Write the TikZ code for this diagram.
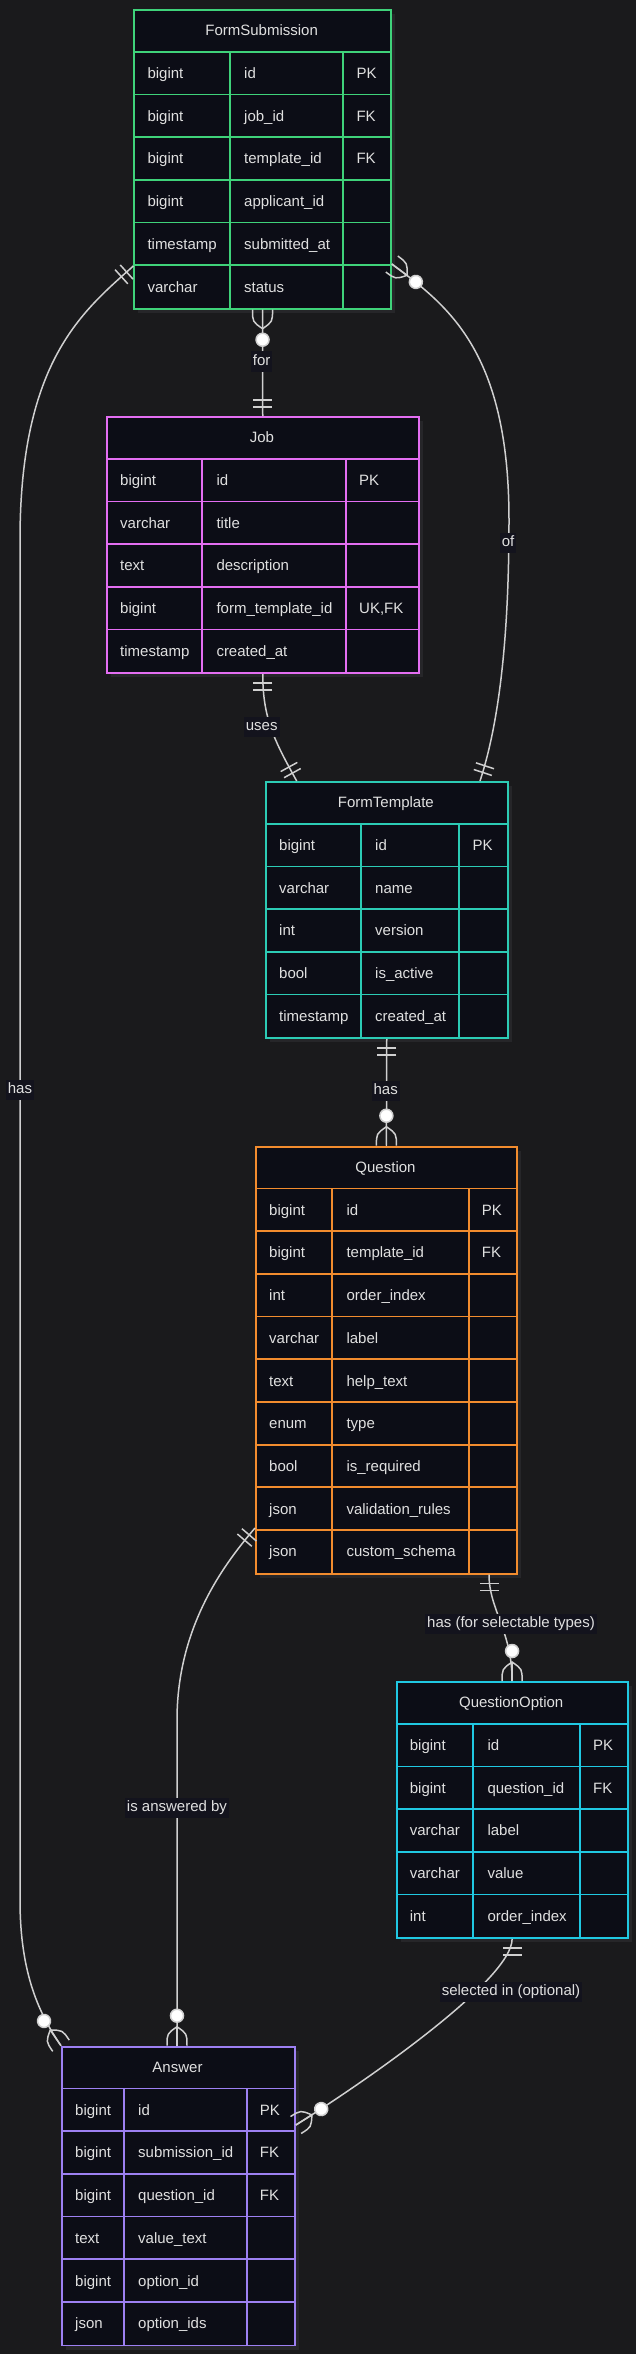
\documentclass[tikz,border=0pt]{standalone}
\usepackage{fontspec}
\setmainfont{Liberation Sans}
\usetikzlibrary{calc}
\definecolor{bgc}{HTML}{1A1A1C}
\definecolor{tblf}{HTML}{0C0D16}
\definecolor{shc}{HTML}{262629}
\definecolor{txtc}{HTML}{E0E0E0}
\definecolor{lnc}{HTML}{D0D0D0}
\definecolor{lblf}{HTML}{13131D}
\definecolor{cfs}{HTML}{3FD27A}
\definecolor{cjob}{HTML}{E46EF2}
\definecolor{cft}{HTML}{2CCBB5}
\definecolor{cq}{HTML}{F28C2E}
\definecolor{cqo}{HTML}{20C8E2}
\definecolor{cans}{HTML}{9D80F2}
\newcommand{\tf}{\fontsize{15}{18}\selectfont}
\tikzset{
 txt/.style={text=txtc, font=\tf, inner sep=0pt},
 conn/.style={draw=lnc, line width=1.5pt},
 lbl/.style={fill=lblf, text=txtc, font=\tf, inner xsep=2pt, inner ysep=3pt, text height=11pt, text depth=3.5pt},
 tblbox/.style={fill=tblf, line width=1.8pt, inner sep=0pt, anchor=north west},
}
\newcommand{\RH}{42.7}
\newcommand{\ertbl}[9]{%
 \fill[shc] ({#3+5},{#4+5}) rectangle ++(#5,{\RH*(#8+1)});
 \node[tblbox, draw=#2, minimum width=#5pt, minimum height={\RH*(#8+1)*1pt}] (#1) at (#3,#4) {};
 \begin{scope}[shift={(#1.north west)}]
 \foreach \i in {1,...,#8} \draw[#2, line width=1.8pt] (0,{\RH*\i}) -- (#5,{\RH*\i});
 \draw[#2, line width=1.8pt] (#6,\RH) -- (#6,{\RH*(#8+1)}) (#7,\RH) -- (#7,{\RH*(#8+1)});
 \node[txt, anchor=base] (#1-t) at ({#5/2},{\RH/2+5.5}) {#9};
 \def\cA{#6}\def\cB{#7}\def\tn{#1}%
}
\newcommand{\ertend}{\end{scope}}
\newcommand{\ertrow}[4]{%
 \node[txt, anchor=base west] (\tn-#1a) at (14,{\RH*#1+\RH/2+5.5}) {#2};
 \node[txt, anchor=base west] (\tn-#1b) at ({\cA+14},{\RH*#1+\RH/2+5.5}) {#3};
 \node[txt, anchor=base west] (\tn-#1c) at ({\cB+13},{\RH*#1+\RH/2+5.5}) {#4};
}
\newcommand{\mkone}[2]{\begin{scope}[shift={(#1)},rotate=#2]
 \draw[conn] (9,-9.5)--(9,9.5) (16,-9.5)--(16,9.5);\end{scope}}
\newcommand{\mkmany}[2]{\begin{scope}[shift={(#1)},rotate=#2]
 \draw[conn] (0,10) .. controls (12,10) .. (19,0) .. controls (12,-10) .. (0,-10);
 \draw[conn] (0,0) -- (19,0);
 \draw[conn, fill=white] (30,0) circle[radius=6.5pt];\end{scope}}
\begin{document}
\begin{tikzpicture}[x=1pt,y=-1pt]
\useasboundingbox (0,0) rectangle (635,2354);
\fill[bgc] (-3,-3) rectangle (638,2357);

% FormSubmission
\ertbl{fs}{cfs}{133.3}{9}{256.7}{96.7}{210}{6}{FormSubmission}
\ertrow{1}{bigint}{id}{PK}
\ertrow{2}{bigint}{job\_id}{FK}
\ertrow{3}{bigint}{template\_id}{FK}
\ertrow{4}{bigint}{applicant\_id}{}
\ertrow{5}{timestamp}{submitted\_at}{}
\ertrow{6}{varchar}{status}{}
\ertend

% Job
\ertbl{job}{cjob}{106}{416}{311.7}{96.3}{240}{5}{Job}
\ertrow{1}{bigint}{id}{PK}
\ertrow{2}{varchar}{title}{}
\ertrow{3}{text}{description}{}
\ertrow{4}{bigint}{form\_template\_id}{UK,FK}
\ertrow{5}{timestamp}{created\_at}{}
\ertend

% FormTemplate
\ertbl{ft}{cft}{265}{781}{241.7}{96}{194.3}{5}{FormTemplate}
\ertrow{1}{bigint}{id}{PK}
\ertrow{2}{varchar}{name}{}
\ertrow{3}{int}{version}{}
\ertrow{4}{bool}{is\_active}{}
\ertrow{5}{timestamp}{created\_at}{}
\ertend

% Question
\ertbl{q}{cq}{255}{1145.7}{261}{77.3}{213.7}{9}{Question}
\ertrow{1}{bigint}{id}{PK}
\ertrow{2}{bigint}{template\_id}{FK}
\ertrow{3}{int}{order\_index}{}
\ertrow{4}{varchar}{label}{}
\ertrow{5}{text}{help\_text}{}
\ertrow{6}{enum}{type}{}
\ertrow{7}{bool}{is\_required}{}
\ertrow{8}{json}{validation\_rules}{}
\ertrow{9}{json}{custom\_schema}{}
\ertend

% QuestionOption
\ertbl{qo}{cqo}{395.7}{1681}{231}{77.6}{184.3}{5}{QuestionOption}
\ertrow{1}{bigint}{id}{PK}
\ertrow{2}{bigint}{question\_id}{FK}
\ertrow{3}{varchar}{label}{}
\ertrow{4}{varchar}{value}{}
\ertrow{5}{int}{order\_index}{}
\ertend

% Answer
\ertbl{ans}{cans}{61}{2045.7}{233}{63}{185.7}{6}{Answer}
\ertrow{1}{bigint}{id}{PK}
\ertrow{2}{bigint}{submission\_id}{FK}
\ertrow{3}{bigint}{question\_id}{FK}
\ertrow{4}{text}{value\_text}{}
\ertrow{5}{bigint}{option\_id}{}
\ertrow{6}{json}{option\_ids}{}
\ertend

% connector end points
\coordinate (hasA) at ($(fs.north west)+(0,257)$);
\coordinate (ofA) at ($(fs.north east)+(0,255)$);
\coordinate (ofB) at ($(ft.north west)+(215,0)$);
\coordinate (usesB) at ($(ft.north west)+(31.7,0)$);
\coordinate (iaA) at ($(q.north west)+(0,382.3)$);
\coordinate (iaB) at ($(ans.north west)+(116,0)$);
\coordinate (hsA) at ($(q.south west)+(234,0)$);
\coordinate (siB) at ($(ans.north east)+(0,79.3)$);

% connectors
\draw[conn] (fs.south) -- (job.north);
\draw[conn] (hasA) .. controls +(-50,45) and (20,360) .. (20,540) -- (20,1900) .. controls (20,1975) and (40,2015) .. (ans.north west);
\draw[conn] (ofA) .. controls +(55,41) and (509,350) .. (509,520) .. controls (509,660) and +(15,-46) .. (ofB);
\draw[conn] (job.south) .. controls +(0,45) and +(-22,-40) .. (usesB);
\draw[conn] (ft.south) -- (q.north);
\draw[conn] (iaA) .. controls +(-29,34) and (177,1625) .. (177,1720) -- (iaB);
\draw[conn] (hsA) .. controls +(0,35) and +(0,-50) .. (qo.north);
\draw[conn] (qo.south) .. controls +(0,40) and +(75,-47) .. (siB);

% markers
\mkmany{fs.south}{-90}
\mkone{job.north}{90}
\mkone{hasA}{222}
\mkmany{ans.north west}{124.4}
\mkmany{ofA}{-36.7}
\mkone{ofB}{71.9}
\mkone{job.south}{-90}
\mkone{usesB}{118.8}
\mkone{ft.south}{-90}
\mkmany{q.north}{90}
\mkone{iaA}{229.5}
\mkmany{iaB}{90}
\mkone{hsA}{-90}
\mkmany{qo.north}{90}
\mkone{qo.south}{-90}
\mkmany{siB}{32.1}

% labels
\node[lbl] (l-for) at (261.7,361.7) {for};
\node[lbl] (l-has1) at (20,1090) {has};
\node[lbl] (l-of) at (508,543) {of};
\node[lbl] (l-uses) at (261.7,727) {uses};
\node[lbl] (l-has2) at (385.7,1091) {has};
\node[lbl] (l-ia) at (177,1808) {is answered by};
\node[lbl] (l-hs) at (511,1624) {has (for selectable types)};
\node[lbl] (l-si) at (511,1992) {selected in (optional)};
\end{tikzpicture}
\end{document}
